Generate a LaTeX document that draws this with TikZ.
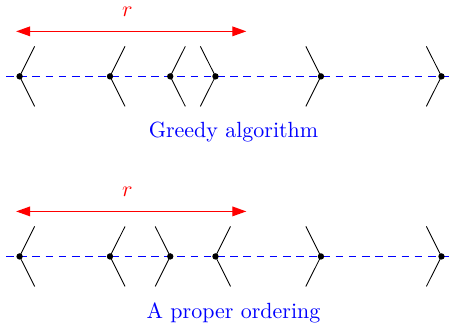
\documentclass[tikz,border=0pt]{standalone}
\usepackage{amsmath}
\usetikzlibrary{arrows.meta}

\begin{document}
\begin{tikzpicture}[
    x=0.241cm, y=0.24cm,
    point/.style={circle, fill=black, inner sep=0pt, minimum size=2.9pt},
    wall/.style={thin, black},
    axis/.style={blue, dash pattern=on 3.5pt off 2.5pt},
    span/.style={draw=red, line width=0.6pt, {Triangle[length=6.4pt, width=4.4pt]}-{Triangle[length=6.4pt, width=4.4pt]}},
    caption/.style={blue}
]
\useasboundingbox (-1.3,-16.85) rectangle (28.5,5.09);

% Greedy algorithm
\coordinate (s1) at (-0.9,0);
\coordinate (e1) at (28.5,0);
\draw[axis] (s1) -- (e1);
\foreach \x/\d [count=\i] in {0/1, 6/1, 10/1, 13/-1, 20/-1, 28/-1} {
    \node[point] (a\i) at (\x,0) {};
    \draw[wall] ([shift={(\d,2)}]a\i.center) -- (a\i.center) -- ([shift={(\d,-2)}]a\i.center);
}
\coordinate (l1) at (-0.23,3);
\coordinate (r1) at (15.05,3);
\draw[span] (l1) -- (r1);
\node[red] (rad1) at (7.15,4.3) {$r$};
\node[caption] (cap1) at (14.2,-3.7) {Greedy algorithm};

% A proper ordering
\coordinate (s2) at (-0.9,-12);
\coordinate (e2) at (28.5,-12);
\draw[axis] (s2) -- (e2);
\foreach \x/\d [count=\i] in {0/1, 6/1, 10/-1, 13/1, 20/-1, 28/-1} {
    \node[point] (b\i) at (\x,-12) {};
    \draw[wall] ([shift={(\d,2)}]b\i.center) -- (b\i.center) -- ([shift={(\d,-2)}]b\i.center);
}
\coordinate (l2) at (-0.23,-9);
\coordinate (r2) at (15.05,-9);
\draw[span] (l2) -- (r2);
\node[red] (rad2) at (7.15,-7.7) {$r$};
\node[caption] (cap2) at (14.2,-15.75) {A proper ordering};

\end{tikzpicture}
\end{document}
